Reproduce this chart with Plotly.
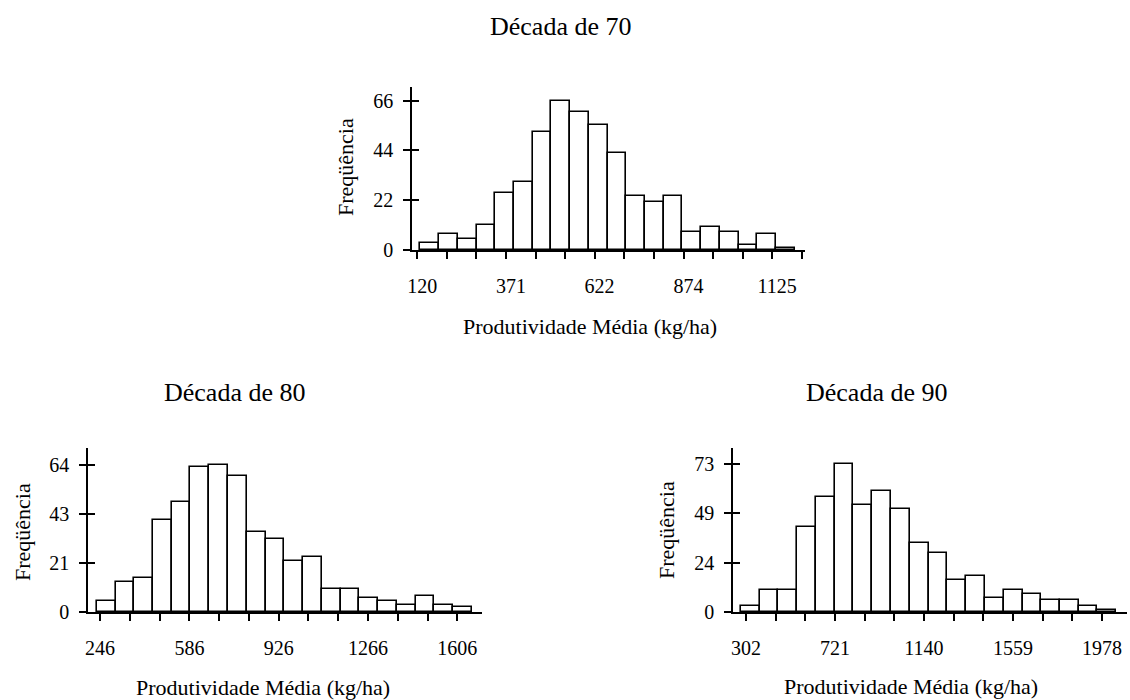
import plotly.graph_objects as go

# ---------------- data ----------------
edges70 = [129, 182, 235, 288, 341, 394, 447, 500, 553, 606, 659, 712, 765, 818, 871, 924, 977, 1030, 1083, 1136, 1189]
freq70 = [3, 7, 5, 11, 25, 30, 52, 66, 61, 55, 43, 24, 21, 24, 8, 10, 8, 2, 7, 1]
xticks70 = [120, 203.75, 287.5, 371, 455, 538.5, 622, 706, 790, 874, 957.5, 1041, 1125, 1209]
xlabels70 = ["120", "", "", "371", "", "", "622", "", "", "874", "", "", "1125", ""]
yticks70 = [0, 22, 44, 66]
ylabels70 = ["0", "22", "44", "66"]

edges80 = [233, 305, 376, 448, 519, 590, 662, 733, 805, 876, 947, 1019, 1090, 1162, 1233, 1304, 1376, 1447, 1519, 1590, 1661]
freq80 = [5, 13, 15, 40, 48, 63, 64, 59, 35, 32, 22, 24, 10, 10, 6, 5, 3, 7, 3, 2]
xticks80 = [246, 359.3, 472.7, 586, 699.3, 812.7, 926, 1039.3, 1152.7, 1266, 1379.3, 1492.7, 1606]
xlabels80 = ["246", "", "", "586", "", "", "926", "", "", "1266", "", "", "1606"]
yticks80 = [0, 21.33, 42.67, 64]
ylabels80 = ["0", "21", "43", "64"]

edges90 = [278, 367, 455, 543, 632, 720, 808, 897, 985, 1073, 1162, 1250, 1339, 1427, 1515, 1604, 1692, 1780, 1869, 1957, 2046]
freq90 = [3, 11, 11, 42, 57, 73, 53, 60, 51, 34, 29, 16, 18, 7, 11, 9, 6, 6, 3, 1]
xticks90 = [302, 441.7, 581.3, 721, 860.7, 1000.3, 1140, 1279.7, 1419.3, 1559, 1698.7, 1838.3, 1978]
xlabels90 = ["302", "", "", "721", "", "", "1140", "", "", "1559", "", "", "1978"]
yticks90 = [0, 24.33, 48.67, 73]
ylabels90 = ["0", "24", "49", "73"]

titles = ["Década de 70", "Década de 80", "Década de 90"]
xtitle = "Produtividade Média (kg/ha)"
ytitle = "Freqüência"

# ---------------- figure ----------------
W, H = 1130, 700
FONT = "Liberation Serif, Times New Roman, serif"

def px(x):
    return x / W

def py(y):
    return 1 - y / H

fig = go.Figure()

panels = [
    (edges70, freq70, "x", "y"),
    (edges80, freq80, "x2", "y2"),
    (edges90, freq90, "x3", "y3"),
]
for edges, freq, xa, ya in panels:
    centers = [(edges[i] + edges[i + 1]) / 2 for i in range(len(freq))]
    widths = [edges[i + 1] - edges[i] for i in range(len(freq))]
    fig.add_trace(go.Bar(
        x=centers, y=freq, width=widths,
        marker=dict(color="white", line=dict(color="black", width=1.6)),
        xaxis=xa, yaxis=ya, showlegend=False, hoverinfo="x+y",
    ))

def xax(domain, rng, tv, tt, anchor, shift=0):
    return dict(domain=domain, range=rng, tickmode="array", tickvals=tv, ticktext=tt,
                showline=True, linecolor="black", linewidth=1.6, ticks="outside",
                ticklen=7, tickwidth=1.5, tickcolor="black", showgrid=False,
                zeroline=False, ticklabelstandoff=10, ticklabelshift=shift,
                anchor=anchor, automargin=False,
                tickfont=dict(family=FONT, size=20, color="black"))

def yax(domain, rng, tv, tt, anchor):
    return dict(domain=domain, range=rng, tickmode="array", tickvals=tv, ticktext=tt,
                showline=True, linecolor="black", linewidth=1.6, ticks="outside",
                ticklen=7, tickwidth=1.5, tickcolor="black", showgrid=False,
                zeroline=False, anchor=anchor, ticklabelstandoff=6, automargin=False,
                tickfont=dict(family=FONT, size=20, color="black"))

def yinner(base, rng, tv, anchor):
    # overlay axis drawing the inner half of the y ticks (ticks cross the axis line)
    return dict(overlaying=base, anchor=anchor, range=rng, tickmode="array", tickvals=tv,
                showticklabels=False, showline=False, ticks="inside", ticklen=7,
                tickwidth=1.5, tickcolor="black", showgrid=False, zeroline=False,
                automargin=False)

fig.update_layout(
    width=W, height=H,
    margin=dict(l=0, r=0, t=0, b=0, pad=0, autoexpand=False),
    paper_bgcolor="white", plot_bgcolor="white",
    bargap=0,
    xaxis=xax([px(412), px(805)], [105, 1218], xticks70, xlabels70, "y", shift=5),
    yaxis=yax([py(250), py(87)], [0, 72], yticks70, ylabels70, "x"),
    xaxis2=xax([px(88), px(482)], [200, 1700], xticks80, xlabels80, "y2"),
    yaxis2=yax([py(612), py(448)], [0, 71.4], yticks80, ylabels80, "x2"),
    xaxis3=xax([px(733), px(1127)], [241, 2096], xticks90, xlabels90, "y3"),
    yaxis3=yax([py(612), py(448)], [0, 81], yticks90, ylabels90, "x3"),
    yaxis4=yinner("y", [0, 72], yticks70, "x"),
    yaxis5=yinner("y2", [0, 71.4], yticks80, "x2"),
    yaxis6=yinner("y3", [0, 81], yticks90, "x3"),
)

# empty helper traces so the overlay tick axes are drawn
for xa, ya in [("x", "y4"), ("x2", "y5"), ("x3", "y6")]:
    fig.add_trace(go.Scatter(x=[], y=[], xaxis=xa, yaxis=ya, showlegend=False, hoverinfo="skip"))

ann = []
def add_text(text, x, y, size, angle=0):
    ann.append(dict(text=text, x=px(x), y=py(y), xref="paper", yref="paper",
                    xanchor="center", yanchor="middle", showarrow=False, textangle=angle,
                    font=dict(family=FONT, size=size, color="black")))

add_text(titles[0], 560, 26, 26)
add_text(titles[1], 234, 392, 26)
add_text(titles[2], 876, 392, 26)
add_text(xtitle, 590, 326, 22)
add_text(xtitle, 263, 687, 22)
add_text(xtitle, 911, 686, 22)
add_text(ytitle, 346, 167, 22, -90)
add_text(ytitle, 22, 532, 22, -90)
add_text(ytitle, 666, 530, 22, -90)
fig.update_layout(annotations=ann)

# remove the default page margin so the 1130x700 figure fills the window exactly
fig.write_html("out.html", config={"displayModeBar": False},
               post_script="document.body.style.margin='0';document.body.style.overflow='hidden';")
